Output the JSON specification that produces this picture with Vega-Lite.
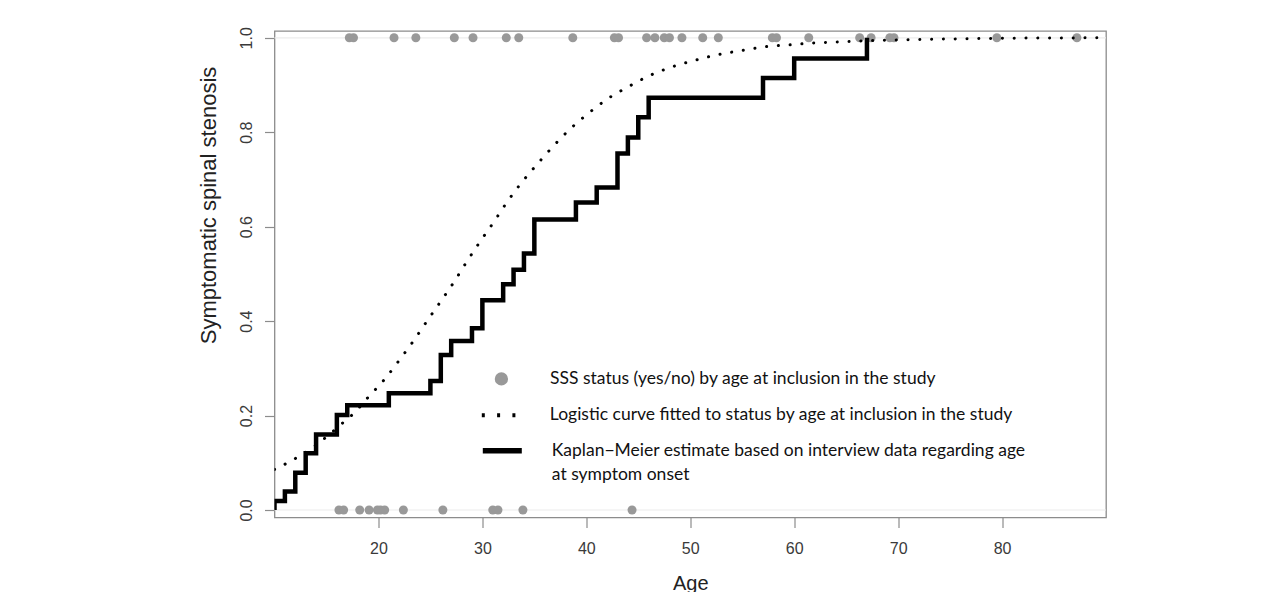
{
  "$schema": "https://vega.github.io/schema/vega-lite/v6.json",
  "width": 831.5,
  "height": 486.5,
  "autosize": "none",
  "padding": {"left": 274.5, "top": 31, "right": 175, "bottom": 74.5},
  "background": "white",
  "config": {
    "view": {"stroke": "#8c8c8c", "strokeWidth": 1.3},
    "font": "Liberation Sans",
    "style": {"guide-label": {"lineHeight": 24.7}},
    "axis": {
      "domain": false, "grid": false, "tickColor": "#8c8c8c", "tickSize": 10, "tickWidth": 1.2,
      "labelFont": "Liberation Sans", "labelFontSize": 16, "labelColor": "#3a3a3a", "labelFlush": false, "labelOverlap": false,
      "titleFont": "Liberation Sans", "titleFontSize": 20, "titleFontWeight": "normal", "titleColor": "#222222"
    },
    "legend": {
      "orient": "none", "padding": 0, "labelFont": "Lato", "labelFontSize": 17.5, "labelColor": "#111111", "labelLimit": 0,
      "symbolOpacity": 1
    }
  },
  "resolve": {"scale": {"color": "independent"}, "legend": {"color": "independent"}},
  "datasets": {
    "status": [
      {"age": 17.2, "value": 1, "series": "a"}, {"age": 17.6, "value": 1, "series": "a"},
      {"age": 21.5, "value": 1, "series": "a"}, {"age": 23.6, "value": 1, "series": "a"},
      {"age": 27.3, "value": 1, "series": "a"}, {"age": 29.1, "value": 1, "series": "a"},
      {"age": 32.3, "value": 1, "series": "a"}, {"age": 33.5, "value": 1, "series": "a"},
      {"age": 38.7, "value": 1, "series": "a"}, {"age": 42.7, "value": 1, "series": "a"},
      {"age": 43.1, "value": 1, "series": "a"}, {"age": 45.8, "value": 1, "series": "a"},
      {"age": 46.6, "value": 1, "series": "a"}, {"age": 47.5, "value": 1, "series": "a"},
      {"age": 48.0, "value": 1, "series": "a"}, {"age": 49.2, "value": 1, "series": "a"},
      {"age": 51.2, "value": 1, "series": "a"}, {"age": 52.7, "value": 1, "series": "a"},
      {"age": 57.9, "value": 1, "series": "a"}, {"age": 58.3, "value": 1, "series": "a"},
      {"age": 61.4, "value": 1, "series": "a"}, {"age": 66.3, "value": 1, "series": "a"},
      {"age": 67.4, "value": 1, "series": "a"}, {"age": 69.2, "value": 1, "series": "a"},
      {"age": 69.6, "value": 1, "series": "a"}, {"age": 79.5, "value": 1, "series": "a"},
      {"age": 87.2, "value": 1, "series": "a"},
      {"age": 16.2, "value": 0, "series": "a"}, {"age": 16.65, "value": 0, "series": "a"},
      {"age": 18.2, "value": 0, "series": "a"}, {"age": 19.1, "value": 0, "series": "a"},
      {"age": 19.9, "value": 0, "series": "a"}, {"age": 20.2, "value": 0, "series": "a"},
      {"age": 20.6, "value": 0, "series": "a"}, {"age": 22.4, "value": 0, "series": "a"},
      {"age": 26.2, "value": 0, "series": "a"}, {"age": 31.0, "value": 0, "series": "a"},
      {"age": 31.5, "value": 0, "series": "a"}, {"age": 33.9, "value": 0, "series": "a"},
      {"age": 44.4, "value": 0, "series": "a"}
    ],
    "logistic": [
      {"age": 10.0, "value": 0.086, "series": "b"}, {"age": 11.0, "value": 0.097, "series": "b"},
      {"age": 12.0, "value": 0.109, "series": "b"}, {"age": 13.0, "value": 0.122, "series": "b"},
      {"age": 14.9, "value": 0.153, "series": "b"}, {"age": 16.65, "value": 0.186, "series": "b"},
      {"age": 17.5, "value": 0.202, "series": "b"}, {"age": 19.06, "value": 0.240, "series": "b"},
      {"age": 20.6, "value": 0.277, "series": "b"}, {"age": 22.0, "value": 0.317, "series": "b"},
      {"age": 23.4, "value": 0.359, "series": "b"}, {"age": 24.7, "value": 0.401, "series": "b"},
      {"age": 26.0, "value": 0.442, "series": "b"}, {"age": 27.3, "value": 0.484, "series": "b"},
      {"age": 28.5, "value": 0.526, "series": "b"}, {"age": 29.8, "value": 0.569, "series": "b"},
      {"age": 31.1, "value": 0.610, "series": "b"}, {"age": 32.4, "value": 0.653, "series": "b"},
      {"age": 33.8, "value": 0.694, "series": "b"}, {"age": 35.3, "value": 0.733, "series": "b"},
      {"age": 36.8, "value": 0.770, "series": "b"}, {"age": 38.4, "value": 0.806, "series": "b"},
      {"age": 40.2, "value": 0.840, "series": "b"}, {"age": 42.0, "value": 0.870, "series": "b"},
      {"age": 44.0, "value": 0.896, "series": "b"}, {"age": 46.0, "value": 0.919, "series": "b"},
      {"age": 48.2, "value": 0.938, "series": "b"}, {"age": 50.4, "value": 0.952, "series": "b"},
      {"age": 52.6, "value": 0.964, "series": "b"}, {"age": 54.9, "value": 0.973, "series": "b"},
      {"age": 57.2, "value": 0.981, "series": "b"}, {"age": 59.5, "value": 0.985, "series": "b"},
      {"age": 61.8, "value": 0.989, "series": "b"}, {"age": 64.1, "value": 0.991, "series": "b"},
      {"age": 66.3, "value": 0.993, "series": "b"}, {"age": 68.7, "value": 0.995, "series": "b"},
      {"age": 71.0, "value": 0.996, "series": "b"}, {"age": 80.2, "value": 0.999, "series": "b"},
      {"age": 90.0, "value": 1.0, "series": "b"}
    ],
    "km": [
      {"i": 0, "age": 10, "value": 0, "series": "c"}, {"i": 1, "age": 10, "value": 0.019, "series": "c"},
      {"i": 2, "age": 11, "value": 0.039, "series": "c"}, {"i": 3, "age": 12, "value": 0.079, "series": "c"},
      {"i": 4, "age": 13, "value": 0.12, "series": "c"}, {"i": 5, "age": 14, "value": 0.16, "series": "c"},
      {"i": 6, "age": 16, "value": 0.201, "series": "c"}, {"i": 7, "age": 17, "value": 0.222, "series": "c"},
      {"i": 8, "age": 21, "value": 0.247, "series": "c"}, {"i": 9, "age": 25, "value": 0.273, "series": "c"},
      {"i": 10, "age": 26, "value": 0.328, "series": "c"}, {"i": 11, "age": 27, "value": 0.358, "series": "c"},
      {"i": 12, "age": 29, "value": 0.385, "series": "c"}, {"i": 13, "age": 30, "value": 0.444, "series": "c"},
      {"i": 14, "age": 32, "value": 0.478, "series": "c"}, {"i": 15, "age": 33, "value": 0.509, "series": "c"},
      {"i": 16, "age": 34, "value": 0.543, "series": "c"}, {"i": 17, "age": 35, "value": 0.615, "series": "c"},
      {"i": 18, "age": 39, "value": 0.651, "series": "c"}, {"i": 19, "age": 41, "value": 0.683, "series": "c"},
      {"i": 20, "age": 43, "value": 0.755, "series": "c"}, {"i": 21, "age": 44, "value": 0.789, "series": "c"},
      {"i": 22, "age": 45, "value": 0.832, "series": "c"}, {"i": 23, "age": 46, "value": 0.873, "series": "c"},
      {"i": 24, "age": 57, "value": 0.915, "series": "c"}, {"i": 25, "age": 60, "value": 0.956, "series": "c"},
      {"i": 26, "age": 67, "value": 1.0, "series": "c"}
    ],
    "refs": [{"value": 0}, {"value": 1}]
  },
  "layer": [
    {
      "data": {"name": "refs"},
      "mark": {"type": "rule", "color": "#ececec", "strokeWidth": 1.2},
      "encoding": {
        "y": {"field": "value", "type": "quantitative"}
      }
    },
    {
      "data": {"name": "status"},
      "mark": {"type": "point", "filled": true, "opacity": 1, "size": 81, "shape": "circle"},
      "encoding": {
        "x": {"field": "age", "type": "quantitative",
          "scale": {"domain": [10, 90], "nice": false, "zero": false},
          "axis": {"values": [20, 30, 40, 50, 60, 70, 80], "labelPadding": 13, "labelBaseline": "top",
                   "title": "Age", "titleX": 415.75, "titleY": 71.5, "titleAlign": "center", "titleBaseline": "alphabetic"}},
        "y": {"field": "value", "type": "quantitative",
          "scale": {"domain": [-0.0159, 1.0144], "nice": false, "zero": false},
          "axis": {"values": [0, 0.2, 0.4, 0.6, 0.8, 1.0], "format": ".1f",
                   "labelAngle": 270, "labelAlign": "center", "labelBaseline": "alphabetic", "labelPadding": 12.8,
                   "title": "Symptomatic spinal stenosis", "titleFontSize": 22, "titleAngle": 270, "titleX": -59.5, "titleY": 174,
                   "titleAlign": "center", "titleBaseline": "alphabetic"}},
        "color": {"field": "series", "type": "nominal",
          "scale": {"domain": ["a"], "range": ["#999999"]},
          "legend": {"title": null, "legendX": 218.15, "legendY": 339.15,
            "symbolType": "circle", "symbolSize": 177, "symbolFillColor": "#999999", "symbolStrokeWidth": 0, "labelOffset": 39.85,
            "labelExpr": "'SSS status (yes/no) by age at inclusion in the study'"}}
      }
    },
    {
      "data": {"name": "logistic"},
      "mark": {"type": "line", "interpolate": "monotone", "strokeWidth": 3, "strokeDash": [0.1, 11.7], "strokeCap": "round", "clip": true},
      "encoding": {
        "x": {"field": "age", "type": "quantitative"},
        "y": {"field": "value", "type": "quantitative"},
        "color": {"field": "series", "type": "nominal",
          "scale": {"domain": ["b"], "range": ["#000000"]},
          "legend": {"title": null, "legendX": 205.3, "legendY": 362.8,
            "symbolType": "stroke", "symbolSize": 1521, "symbolDash": [3, 12.3], "symbolStrokeWidth": 4, "labelOffset": 27,
            "labelExpr": "'Logistic curve fitted to status by age at inclusion in the study'"}}
      }
    },
    {
      "data": {"name": "km"},
      "mark": {"type": "line", "interpolate": "step-after", "strokeWidth": 4.5, "clip": true},
      "encoding": {
        "x": {"field": "age", "type": "quantitative"},
        "y": {"field": "value", "type": "quantitative"},
        "order": {"field": "i", "type": "quantitative"},
        "color": {"field": "series", "type": "nominal",
          "scale": {"domain": ["c"], "range": ["#000000"]},
          "legend": {"title": null, "legendX": 205.3, "legendY": 397.2,
            "symbolType": "stroke", "symbolSize": 1521, "symbolStrokeWidth": 5.5, "labelOffset": 27,
            "labelExpr": "['Kaplan−Meier estimate based on interview data regarding age', 'at symptom onset']"}}
      }
    }
  ]
}
